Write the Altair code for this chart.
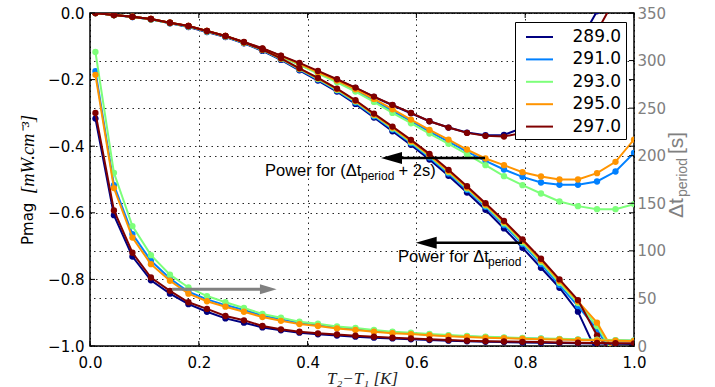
import altair as alt
import pandas as pd

# ---------------- data ----------------
x_vals = [0.01, 0.044, 0.078, 0.112, 0.147, 0.181, 0.215, 0.249, 0.283, 0.317,
          0.351, 0.385, 0.419, 0.454, 0.488, 0.522, 0.556, 0.59, 0.624, 0.659,
          0.693, 0.727, 0.761, 0.795, 0.829, 0.863, 0.897, 0.932, 0.966, 1.0]
series = ["289.0", "291.0", "293.0", "295.0", "297.0"]
colors = ["#000080", "#0080ff", "#7dff7a", "#ff9400", "#800000"]

# Power for dt_period (left axis)
p_low_289 = [0.0, -0.006, -0.012, -0.019, -0.031, -0.042, -0.057, -0.072, -0.091, -0.114,
             -0.141, -0.172, -0.203, -0.236, -0.273, -0.314, -0.355, -0.396, -0.440, -0.489,
             -0.539, -0.591, -0.647, -0.705, -0.765, -0.825, -0.897, -1.02, -1.08, -1.12]
p_low_291 = [0.0, -0.006, -0.012, -0.019, -0.030, -0.041, -0.056, -0.071, -0.090, -0.112,
             -0.139, -0.170, -0.200, -0.233, -0.269, -0.310, -0.350, -0.391, -0.434, -0.482,
             -0.531, -0.582, -0.637, -0.694, -0.754, -0.817, -0.880, -0.950, -1.04, -1.10]
p_low_293 = [0.0, -0.006, -0.011, -0.019, -0.030, -0.040, -0.055, -0.070, -0.089, -0.111,
             -0.138, -0.168, -0.198, -0.231, -0.266, -0.307, -0.347, -0.388, -0.430, -0.478,
             -0.527, -0.578, -0.632, -0.689, -0.748, -0.810, -0.871, -0.940, -1.03, -1.08]
p_low_295 = [0.0, -0.006, -0.011, -0.018, -0.029, -0.039, -0.054, -0.069, -0.088, -0.110,
             -0.137, -0.167, -0.196, -0.229, -0.264, -0.305, -0.344, -0.385, -0.427, -0.475,
             -0.524, -0.575, -0.628, -0.684, -0.743, -0.805, -0.866, -0.930, -1.025, -1.07]
p_low_297 = [0.0, -0.006, -0.011, -0.018, -0.029, -0.039, -0.054, -0.069, -0.088, -0.110,
             -0.136, -0.166, -0.195, -0.227, -0.262, -0.302, -0.341, -0.381, -0.423, -0.471,
             -0.520, -0.571, -0.624, -0.680, -0.738, -0.800, -0.862, -0.968, -1.03, -1.06]

# Power for (dt_period + 2s) (left axis)
p_up_289 = [0.0, -0.006, -0.011, -0.019, -0.030, -0.040, -0.055, -0.070, -0.088, -0.107,
            -0.129, -0.152, -0.176, -0.200, -0.225, -0.252, -0.277, -0.301, -0.325, -0.344,
            -0.359, -0.367, -0.366, -0.345, -0.27, -0.185, -0.095, 0.005, 0.11, 0.22]
p_up_291 = [0.0, -0.006, -0.011, -0.019, -0.030, -0.040, -0.055, -0.070, -0.089, -0.109,
            -0.131, -0.155, -0.180, -0.206, -0.233, -0.263, -0.294, -0.325, -0.356, -0.386,
            -0.416, -0.444, -0.470, -0.492, -0.509, -0.516, -0.516, -0.506, -0.476, -0.42]
p_up_293 = [0.0, -0.006, -0.011, -0.019, -0.030, -0.040, -0.055, -0.070, -0.089, -0.109,
            -0.131, -0.156, -0.182, -0.208, -0.236, -0.267, -0.300, -0.331, -0.362, -0.393,
            -0.424, -0.457, -0.490, -0.517, -0.542, -0.566, -0.580, -0.589, -0.589, -0.574]
p_up_295 = [0.0, -0.006, -0.011, -0.018, -0.029, -0.039, -0.054, -0.069, -0.088, -0.107,
            -0.129, -0.153, -0.178, -0.203, -0.229, -0.258, -0.289, -0.320, -0.351, -0.380,
            -0.410, -0.437, -0.457, -0.478, -0.491, -0.500, -0.500, -0.481, -0.447, -0.38]
p_up_297 = [0.0, -0.006, -0.011, -0.018, -0.029, -0.039, -0.054, -0.069, -0.087, -0.106,
            -0.128, -0.150, -0.174, -0.199, -0.224, -0.251, -0.276, -0.300, -0.325, -0.344,
            -0.360, -0.369, -0.371, -0.36, -0.31, -0.235, -0.15, -0.055, 0.045, 0.15]

# dt_period in seconds (right axis)
dt_289 = [239, 137.5, 94, 69, 55, 44, 36, 29, 24.5, 19.5, 16.5, 14, 12.3, 11, 9.8,
          8.8, 8, 7, 6.3, 5.6, 4.9, 4.5, 4.1, 3.7, 3.4, 3.1, 2.8, 2.6, 2.4, 2.2]
dt_291 = [289, 169, 117.6, 89.6, 71, 57, 49, 43, 37.8, 32, 28, 24.3, 22, 19.5, 17.7,
          15.8, 14.2, 13.2, 11.9, 10.8, 10, 9.3, 8.6, 8.1, 7.6, 7.1, 6.7, 6.3, 5.9, 5.6]
dt_293 = [309, 182, 126, 95.5, 75, 61.5, 52.5, 46, 40, 33.6, 29.8, 25.5, 23.5, 20.6, 18.9,
          16.8, 15, 14, 12.6, 11.5, 10.5, 9.8, 9.1, 8.5, 8, 7.5, 7, 6.6, 6.2, 5.8]
dt_295 = [285, 166, 114, 86, 68.6, 55, 47, 41.3, 36, 30.5, 26.5, 23, 21, 18.5, 16.8,
          15, 13.5, 12.5, 11.3, 10.3, 9.5, 8.8, 8.2, 7.7, 7.2, 6.8, 6.4, 6, 5.6, 5.3]
dt_297 = [245, 142.5, 98, 72, 58, 46, 39, 31.5, 27, 21, 17.5, 15, 13.3, 12.2, 10.9,
          9.8, 8.8, 8, 7, 6.3, 5.6, 5.1, 4.7, 4.4, 4.1, 3.8, 3.5, 3.2, 3.0, 2.8]

x_ticks = [0.0, 0.2, 0.4, 0.6, 0.8, 1.0]
left_ticks = [-1.0, -0.8, -0.6, -0.4, -0.2, 0.0]
right_ticks = [0, 50, 100, 150, 200, 250, 300, 350]

p_low = dict(zip(series, [p_low_289, p_low_291, p_low_293, p_low_295, p_low_297]))
p_up = dict(zip(series, [p_up_289, p_up_291, p_up_293, p_up_295, p_up_297]))
dts = dict(zip(series, [dt_289, dt_291, dt_293, dt_295, dt_297]))

rows_p, rows_t = [], []
for s in series:
    for g, vals in (("low", p_low[s]), ("up", p_up[s])):
        for x, v in zip(x_vals, vals):
            rows_p.append({"x": x, "v": v, "series": s, "grp": g})
    for x, t in zip(x_vals, dts[s]):
        rows_t.append({"x": x, "t": t, "series": s})
dfp = pd.DataFrame(rows_p)
dft = pd.DataFrame(rows_t)
one = pd.DataFrame({"k": [0]})

# ---------------- encodings ----------------
W, H = 544, 333
grid_kw = dict(grid=True, gridColor="black", gridDash=[1.5, 4], gridWidth=1, gridOpacity=0.85)

xaxis = alt.Axis(values=x_ticks, format=".1f", labelFont="DejaVu Sans", labelFontSize=15,
                 labelColor="black", labelPadding=9, ticks=False, domain=False,
                 labelFlush=False, labelOverlap=False,
                 title="T₂−T₁  [K]", titleFont="Liberation Serif", titleFontStyle="italic",
                 titleFontWeight="normal", titleFontSize=17, titleColor="#222222",
                 titleX=272, titleY=37, titleBaseline="alphabetic", titleAlign="center",
                 **grid_kw)
yaxis_l = alt.Axis(values=left_ticks, format=".1f", orient="left", labelFont="DejaVu Sans",
                   labelFontSize=15, labelColor="black", labelPadding=6, ticks=False,
                   domain=False, labelFlush=False, labelOverlap=False, title=None, **grid_kw)
yaxis_r = alt.Axis(values=right_ticks, format="d", orient="right", labelFont="DejaVu Sans",
                   labelFontSize=15, labelColor="#808080", labelPadding=3, ticks=False,
                   domain=False, labelFlush=False, labelOverlap=False, title=None, **grid_kw)

xs = alt.Scale(domain=[0, 1], nice=False, zero=False)
ysl = alt.Scale(domain=[-1, 0], nice=False, zero=False)
ysr = alt.Scale(domain=[0, 350], nice=False, zero=False)
cs = alt.Scale(domain=series, range=colors)

leg = alt.Legend(title=None, orient="none", legendX=425, legendY=9,
                 fillColor="white", strokeColor="black", padding=4,
                 symbolType="M-1.35,0L1.35,0", symbolSize=400, symbolStrokeWidth=2,
                 symbolOffset=9.5, labelOffset=22, labelFont="DejaVu Sans",
                 labelFontSize=17, labelColor="black", rowPadding=3.4, labelLimit=0)

X = alt.X("x:Q", scale=xs, axis=xaxis)
YL = alt.Y("v:Q", scale=ysl, axis=yaxis_l)
YR = alt.Y("t:Q", scale=ysr, axis=yaxis_r)
C = alt.Color("series:N", scale=cs, legend=leg)

# ---------------- left group (power) ----------------
left_layers = []
for s in series:
    sub = dfp[dfp["series"] == s]
    left_layers.append(alt.Chart(sub).mark_line(strokeWidth=2, clip=True)
                       .encode(x=X, y=YL, color=C, detail="grp:N"))
    left_layers.append(alt.Chart(sub).mark_circle(size=40, opacity=1, clip=True)
                       .encode(x=X, y=YL, color=C))

tl = pd.DataFrame({"v": left_ticks})
tx = pd.DataFrame({"x": x_ticks})
left_layers.append(alt.Chart(tl).mark_rule(color="black", strokeWidth=1)
                   .encode(y=YL, x=alt.value(0), x2=alt.value(5)))
left_layers.append(alt.Chart(tl).mark_rule(color="black", strokeWidth=1)
                   .encode(y=YL, x=alt.value(W - 5), x2=alt.value(W)))
left_layers.append(alt.Chart(tx).mark_rule(color="black", strokeWidth=1)
                   .encode(x=X, y=alt.value(0), y2=alt.value(5)))
left_layers.append(alt.Chart(tx).mark_rule(color="black", strokeWidth=1)
                   .encode(x=X, y=alt.value(H - 5), y2=alt.value(H)))
left = alt.layer(*left_layers)

# ---------------- right group (dt_period) ----------------
right_layers = []
for s in series:
    sub = dft[dft["series"] == s]
    right_layers.append(alt.Chart(sub).mark_line(strokeWidth=2, clip=True)
                        .encode(x=X, y=YR, color=C))
    right_layers.append(alt.Chart(sub).mark_circle(size=40, opacity=1, clip=True)
                        .encode(x=X, y=YR, color=C))
tr = pd.DataFrame({"t": right_ticks})
right_layers.append(alt.Chart(tr).mark_rule(color="black", strokeWidth=1)
                    .encode(y=YR, x=alt.value(W - 5), x2=alt.value(W)))


def txt(text, x, y, size, font="Liberation Sans", angle=0, color="black", style="normal"):
    kw = dict(text=text, font=font, fontSize=size, color=color, align="left",
              baseline="alphabetic", fontStyle=style)
    if angle:
        kw["angle"] = angle
    return alt.Chart(one).mark_text(**kw).encode(x=alt.value(x), y=alt.value(y))


def arrow_line(x1, x2, y, color, width):
    return alt.Chart(one).mark_rule(color=color, strokeWidth=width).encode(
        x=alt.value(x1), x2=alt.value(x2), y=alt.value(y))


def arrow_head(cx, cy, path, size, color):
    return alt.Chart(one).mark_point(shape=path, filled=True, size=size, color=color,
                                     opacity=1, strokeWidth=0).encode(
        x=alt.value(cx), y=alt.value(cy))


LEFT_HEAD = "M-1,0L1,-0.57L1,0.57Z"
RIGHT_HEAD = "M1,0L-1,-0.6L-1,0.6Z"

ann = [
    arrow_line(299, 395, 145, "black", 2.5),
    arrow_head(301.5, 145, LEFT_HEAD, 441, "black"),
    arrow_line(334, 432, 229.7, "black", 2.5),
    arrow_head(336.2, 229.7, LEFT_HEAD, 441, "black"),
    arrow_line(82, 180, 276.3, "#808080", 3),
    arrow_head(178.3, 276.3, RIGHT_HEAD, 279, "#808080"),
    txt("Power for (Δt", 175, 163, 16.5),
    txt("period", 271, 167, 12),
    txt("+ 2s)", 308.5, 163, 16.5),
    txt("Power for Δt", 308, 249, 16.5),
    txt("period", 398, 253, 12),
    txt("Δt", 593, 205, 21, angle=270, color="#808080"),
    txt("period", 597, 184, 14, angle=270, color="#808080"),
    txt("[s]", 593, 141, 21, angle=270, color="#808080"),
    txt("Pmag", -57, 232, 15, font="DejaVu Sans", angle=270),
    txt("[mW.cm⁻³]", -56, 181, 18.5, font="Liberation Serif", angle=270, style="italic"),
]
right = alt.layer(*right_layers, *ann)

chart = (
    alt.layer(left, right)
    .resolve_scale(y="independent")
    .properties(width=W, height=H,
                padding={"left": 90, "top": 13, "right": 81, "bottom": 41},
                autosize=alt.AutoSizeParams(type="none"),
                background="white")
    .configure_view(stroke="black", strokeWidth=1.5)
)

chart.save("out.html", embed_options={"renderer": "svg", "actions": False})
